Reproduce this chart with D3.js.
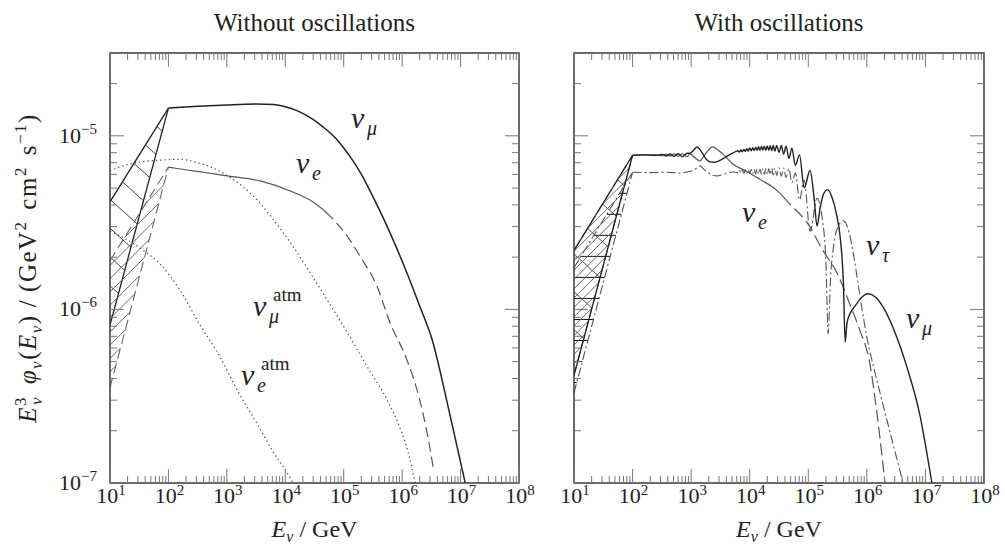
<!DOCTYPE html>
<html>
<head>
<meta charset="utf-8">
<script src="https://cdn.jsdelivr.net/npm/d3@7"></script>
<style>
body { margin: 0; background: #fff; }
svg text { font-family: "Liberation Serif", "DejaVu Serif", serif; fill: #222; }
</style>
</head>
<body>
<div id="chart"></div>
<script>
// all points are [log10(E / GeV), log10(E^3 phi)]

// ---- left panel: without oscillations
var leftNuMu = [[2.0,-4.84],[2.5,-4.83],[3.0,-4.822],[3.5,-4.817],[3.8,-4.82],[4.0,-4.832],[4.2,-4.855],
  [4.4,-4.89],[4.65,-4.95],[4.85,-5.01],[5.0,-5.07],[5.11,-5.12],[5.3,-5.22],[5.5,-5.35],[5.7,-5.49],
  [5.91,-5.65],[6.13,-5.83],[6.3,-5.98],[6.51,-6.17],[6.8,-6.58],[7.08,-7.0]];
var leftNuE = [[2.0,-5.18],[2.2,-5.191],[2.6,-5.21],[3.0,-5.231],[3.57,-5.26],[4.13,-5.324],[4.47,-5.38],
  [4.82,-5.48],[5.06,-5.578],[5.28,-5.694],[5.57,-5.867],[5.79,-6.075],[6.08,-6.289],[6.3,-6.52],
  [6.44,-6.734],[6.53,-6.908]];
var leftAtmNuMu = [[1.0,-5.2],[1.3,-5.165],[1.6,-5.147],[1.86,-5.14],[2.2,-5.135],[2.5,-5.155],[2.76,-5.185],
  [3.1,-5.249],[3.45,-5.347],[3.79,-5.48],[4.13,-5.636],[4.42,-5.786],[4.71,-5.942],[5.06,-6.133],
  [5.4,-6.329],[5.74,-6.52],[5.96,-6.68],[6.1,-6.82],[6.22,-7.0]];
var leftAtmNuE = [[1.0,-5.55],[1.3,-5.6],[1.57,-5.66],[1.86,-5.74],[2.2,-5.89],[2.54,-6.09],[2.88,-6.272],
  [3.17,-6.46],[3.52,-6.66],[3.79,-6.82],[4.03,-6.94],[4.13,-7.0]];
// spectral-index bands below 100 GeV: [edge at 10 GeV, corner at 100 GeV]
var leftBandMu = { upper: [[1,-5.38],[2,-4.84]], lower: [[1,-6.09],[2,-4.84]] };
var leftBandE  = { upper: [[1,-5.72],[2,-5.18]], lower: [[1,-6.45],[2,-5.18]] };

// ---- right panel: with oscillations
var rightNuMu = [[2.0,-5.112],[2.2,-5.11],[2.4,-5.112],[2.5,-5.107],[2.58,-5.116],[2.64,-5.105],[2.71,-5.118],
  [2.78,-5.103],[2.85,-5.12],[2.93,-5.1],[2.98,-5.1],[3.05,-5.08],[3.1,-5.064],[3.15,-5.078],[3.2,-5.104],
  [3.26,-5.135],[3.32,-5.15],[3.4,-5.152],[3.49,-5.142],[3.6,-5.12],[3.71,-5.1],
  [3.8,-5.086],[3.825,-5.094],[3.85,-5.082],[3.875,-5.092],[3.9,-5.078],[3.925,-5.09],[3.95,-5.074],
  [3.975,-5.088],[4.0,-5.07],[4.025,-5.086],[4.05,-5.068],[4.075,-5.085],[4.1,-5.065],[4.125,-5.084],
  [4.15,-5.063],[4.175,-5.083],[4.2,-5.061],[4.225,-5.082],[4.25,-5.06],[4.275,-5.083],[4.3,-5.058],
  [4.325,-5.084],[4.35,-5.057],[4.375,-5.085],[4.4,-5.056],[4.43,-5.088],[4.46,-5.055],[4.5,-5.095],
  [4.54,-5.056],[4.58,-5.105],[4.62,-5.06],[4.67,-5.13],[4.72,-5.072],[4.78,-5.17],[4.85,-5.11],
  [4.93,-5.3],[5.03,-5.2],[5.1,-5.36],[5.15,-5.52],[5.2,-5.42],[5.26,-5.335],[5.33,-5.31],[5.4,-5.35],
  [5.48,-5.45],[5.55,-5.6],[5.6,-5.85],[5.63,-6.19],[5.66,-6.08],[5.72,-6.02],[5.8,-5.98],[5.9,-5.935],
  [6.02,-5.91],[6.15,-5.93],[6.3,-6.0],[6.5,-6.15],[6.7,-6.35],[6.9,-6.6],[7.11,-7.0]];
var rightNuE = [[2.0,-5.112],[2.2,-5.11],[2.4,-5.111],[2.5,-5.114],[2.58,-5.106],[2.64,-5.117],[2.71,-5.104],
  [2.78,-5.118],[2.85,-5.102],[2.93,-5.12],[2.98,-5.104],[3.06,-5.125],[3.15,-5.145],[3.21,-5.12],
  [3.27,-5.092],[3.37,-5.064],[3.45,-5.08],[3.54,-5.104],[3.71,-5.162],[3.95,-5.205],[4.18,-5.252],
  [4.45,-5.31],[4.69,-5.395],[4.98,-5.5],[5.25,-5.66],[5.49,-5.79],[5.71,-5.97],[5.88,-6.12],
  [6.05,-6.31],[6.18,-6.62],[6.31,-7.0]];
var rightNuTau = [[2.0,-5.21],[2.3,-5.212],[2.6,-5.21],[2.8,-5.214],[2.93,-5.208],[3.03,-5.2],[3.1,-5.185],
  [3.15,-5.173],[3.21,-5.19],[3.27,-5.208],[3.35,-5.225],[3.44,-5.231],[3.55,-5.222],[3.71,-5.208],
  [3.8,-5.212],[3.825,-5.198],[3.85,-5.214],[3.875,-5.197],[3.9,-5.215],[3.925,-5.196],[3.95,-5.216],
  [3.975,-5.195],[4.0,-5.217],[4.025,-5.194],[4.05,-5.218],[4.075,-5.193],[4.1,-5.219],[4.125,-5.192],
  [4.15,-5.22],[4.175,-5.191],[4.2,-5.221],[4.225,-5.19],[4.25,-5.222],[4.275,-5.189],[4.3,-5.223],
  [4.325,-5.188],[4.35,-5.224],[4.375,-5.187],[4.4,-5.226],[4.43,-5.186],[4.46,-5.228],[4.5,-5.184],
  [4.54,-5.232],[4.58,-5.185],[4.62,-5.24],[4.67,-5.19],[4.72,-5.27],[4.78,-5.215],[4.85,-5.37],
  [4.93,-5.255],[5.03,-5.55],[5.15,-5.36],[5.24,-5.48],[5.3,-5.72],[5.34,-6.14],[5.38,-5.82],
  [5.43,-5.64],[5.5,-5.53],[5.6,-5.49],[5.7,-5.56],[5.78,-5.7],[5.88,-5.92],[6.0,-6.16],[6.15,-6.38],
  [6.3,-6.58],[6.45,-6.78],[6.62,-7.0]];
var rightBandMu  = { upper: [[1,-5.66],[2,-5.112]], lower: [[1,-6.38],[2,-5.112]] };
var rightBandE   = { upper: [[1,-5.66],[2,-5.112]], lower: [[1,-6.38],[2,-5.112]] };
var rightBandTau = { upper: [[1,-5.76],[2,-5.21]],  lower: [[1,-6.48],[2,-5.21]] };

// axis ticks
var xExponents = [1, 2, 3, 4, 5, 6, 7, 8];
var yExponents = [-7, -6, -5];
var titles = ['Without oscillations', 'With oscillations'];

var TOP = 53, BOTTOM = 483;
var FONT = '"Liberation Serif", "Times New Roman", serif';
var svg = d3.select('#chart').append('svg')
    .attr('width', 1005)
    .attr('height', 550)
    .attr('font-family', FONT);

var yScale = d3.scaleLog().domain([1e-7, 3e-5]).range([BOTTOM, TOP]);

var panels = [
    {
        x0: 110, x1: 519, title: titles[0], yLabels: true,
        bands: [
            { band: leftBandMu, dir: [1, 0.9], step: 11.5, hatch: '#444', edge: '#222', edgeDash: null, w: 1.3 },
            { band: leftBandE, dir: [1, -1], step: 22, hatch: '#666', edge: '#666', edgeDash: '10,5', w: 1.1 }
        ],
        curves: [
            { data: leftAtmNuMu, color: '#444', w: 1.2, dash: '1.3,3' },
            { data: leftAtmNuE, color: '#444', w: 1.2, dash: '1.3,3' },
            { data: leftNuE, color: '#555', w: 1.2, dash: [10, 5], solidTo: 4.88 },
            { data: leftNuMu, color: '#222', w: 1.5, dash: null }
        ],
        labels: [
            { x: 351, y: 128, sub: 'μ' },
            { x: 296, y: 173, sub: 'e' },
            { x: 253, y: 316, sub: 'μ', sup: 'atm' },
            { x: 241, y: 385, sub: 'e', sup: 'atm' }
        ]
    },
    {
        x0: 574, x1: 984, title: titles[1], yLabels: false,
        bands: [
            { band: rightBandTau, dir: [1, 0], step: 12.9, hatch: '#111', edge: '#555', edgeDash: '9,3,2,3', w: 1.1 },
            { band: rightBandE, dir: [1, -1], step: 15, hatch: '#666', edge: '#555', edgeDash: '10,5', w: 1.1 },
            { band: rightBandMu, dir: [1, 0.9], step: 15, hatch: '#555', edge: '#222', edgeDash: null, w: 1.3 }
        ],
        curves: [
            { data: rightNuTau, color: '#555', w: 1.1, dash: '9,3,2,3' },
            { data: rightNuE, color: '#555', w: 1.2, dash: [12, 5], solidTo: 4.69 },
            { data: rightNuMu, color: '#222', w: 1.4, dash: null }
        ],
        labels: [
            { x: 742, y: 222, sub: 'e' },
            { x: 866, y: 255, sub: 'τ' },
            { x: 906, y: 328, sub: 'μ' }
        ]
    }
];

panels.forEach(function (p, i) {
    var xScale = d3.scaleLog().domain([1e1, 1e8]).range([p.x0, p.x1]);
    var g = svg.append('g');
    var clipId = 'clip' + i;
    svg.append('clipPath').attr('id', clipId)
        .append('rect')
        .attr('x', p.x0).attr('y', TOP)
        .attr('width', p.x1 - p.x0).attr('height', BOTTOM - TOP);

    var px = function (d) { return xScale(Math.pow(10, d[0])); };
    var py = function (d) { return yScale(Math.pow(10, d[1])); };
    var line = d3.line().x(px).y(py).curve(d3.curveMonotoneX);

    var plot = g.append('g').attr('clip-path', 'url(#' + clipId + ')');

    // hatched bands
    p.bands.forEach(function (b) {
        drawHatch(plot, px, py, b);
        [b.band.upper, b.band.lower].forEach(function (edge) {
            plot.append('path')
                .attr('d', d3.line().x(px).y(py)(edge))
                .attr('fill', 'none')
                .attr('stroke', b.edge)
                .attr('stroke-width', b.w)
                .attr('stroke-dasharray', b.edgeDash);
        });
    });

    // curves
    p.curves.forEach(function (c) {
        var path = plot.append('path')
            .attr('d', line(c.data))
            .attr('fill', 'none')
            .attr('stroke', c.color)
            .attr('stroke-width', c.w);
        if (c.solidTo) {
            // dense flat part looks solid in the original, dashes start further down
            var head = c.data.filter(function (d) { return d[0] <= c.solidTo; });
            var tmp = plot.append('path').attr('d', line(head));
            var solidLen = tmp.node().getTotalLength();
            tmp.remove();
            var total = path.node().getTotalLength();
            var arr = [solidLen], len = solidLen;
            while (len < total) { arr.push(c.dash[1], c.dash[0]); len += c.dash[0] + c.dash[1]; }
            arr.push(total + 10);
            path.attr('stroke-dasharray', arr.join(','));
        } else if (c.dash) {
            path.attr('stroke-dasharray', c.dash);
        }
    });

    // frame
    g.append('rect')
        .attr('x', p.x0).attr('y', TOP)
        .attr('width', p.x1 - p.x0).attr('height', BOTTOM - TOP)
        .attr('fill', 'none')
        .attr('stroke', '#3a3a3a')
        .attr('stroke-width', 1.5);

    // x ticks, top and bottom, pointing inward
    xExponents.forEach(function (n) {
        for (var k = 1; k <= 9; k++) {
            if (n == 8 && k > 1) break;
            var xv = xScale(k * Math.pow(10, n));
            var len = k == 1 ? 14 : 7;
            g.append('line').attr('x1', xv).attr('x2', xv).attr('y1', BOTTOM).attr('y2', BOTTOM - len)
                .attr('stroke', '#777').attr('stroke-width', 1);
            g.append('line').attr('x1', xv).attr('x2', xv).attr('y1', TOP).attr('y2', TOP + len)
                .attr('stroke', '#777').attr('stroke-width', 1);
        }
        var t = g.append('text')
            .attr('x', xScale(Math.pow(10, n)) + 1)
            .attr('y', 503)
            .attr('text-anchor', 'middle')
            .attr('font-size', 22);
        t.append('tspan').text('10');
        t.append('tspan').attr('font-size', 15).attr('dy', -8).text(n);
    });

    // y ticks, left and right
    yExponents.forEach(function (n) {
        for (var k = 1; k <= 9; k++) {
            var v = k * Math.pow(10, n);
            if (v >= 3e-5) break;
            var yv = yScale(v);
            var len = k == 1 ? 14 : 7;
            g.append('line').attr('x1', p.x0).attr('x2', p.x0 + len).attr('y1', yv).attr('y2', yv)
                .attr('stroke', '#777').attr('stroke-width', 1);
            g.append('line').attr('x1', p.x1).attr('x2', p.x1 - len).attr('y1', yv).attr('y2', yv)
                .attr('stroke', '#777').attr('stroke-width', 1);
        }
        if (p.yLabels) {
            var t = g.append('text')
                .attr('x', p.x0 - 13)
                .attr('y', yScale(Math.pow(10, n)) + 7)
                .attr('text-anchor', 'end')
                .attr('font-size', 22);
            t.append('tspan').text('10');
            t.append('tspan').attr('font-size', 15).attr('dy', -9).text('\u2212' + Math.abs(n));
        }
    });

    // panel title
    g.append('text')
        .attr('x', (p.x0 + p.x1) / 2)
        .attr('y', 31)
        .attr('text-anchor', 'middle')
        .attr('font-size', 25)
        .text(p.title);

    // x axis title
    var xt = g.append('text')
        .attr('x', (p.x0 + p.x1) / 2)
        .attr('y', 537)
        .attr('text-anchor', 'middle')
        .attr('font-size', 24);
    xt.append('tspan').attr('font-style', 'italic').text('E');
    xt.append('tspan').attr('font-style', 'italic').attr('font-size', 16).attr('dy', 5).text('ν');
    xt.append('tspan').attr('dy', -5).text(' / GeV');

    // curve labels
    p.labels.forEach(function (l) {
        g.append('text').attr('x', l.x).attr('y', l.y)
            .attr('font-size', 30).attr('font-style', 'italic').text('ν');
        g.append('text').attr('x', l.x + 16).attr('y', l.y + 7)
            .attr('font-size', 20).attr('font-style', 'italic').text(l.sub);
        if (l.sup) {
            g.append('text').attr('x', l.x + 20).attr('y', l.y - 15)
                .attr('font-size', 19).text(l.sup);
        }
    });
});

// y axis title
var yt = svg.append('text')
    .attr('transform', 'translate(36,268) rotate(-90)')
    .attr('text-anchor', 'middle')
    .attr('font-size', 25);
yt.append('tspan').attr('font-style', 'italic').text('E');
yt.append('tspan').attr('font-size', 17).attr('dy', -10).text('3');
yt.append('tspan').attr('font-size', 17).attr('font-style', 'italic').attr('dx', -9).attr('dy', 16).text('ν');
yt.append('tspan').attr('dy', -6).attr('dx', 4).text(' ');
yt.append('tspan').attr('font-style', 'italic').text('φ');
yt.append('tspan').attr('font-size', 17).attr('font-style', 'italic').attr('dy', 6).text('ν');
yt.append('tspan').attr('dy', -6).text('(');
yt.append('tspan').attr('font-style', 'italic').text('E');
yt.append('tspan').attr('font-size', 17).attr('font-style', 'italic').attr('dy', 6).text('ν');
yt.append('tspan').attr('dy', -6).text(')');
yt.append('tspan').attr('dx', 7).text('/');
yt.append('tspan').attr('dx', 7).text('(GeV');
yt.append('tspan').attr('font-size', 17).attr('dy', -10).text('2');
yt.append('tspan').attr('dy', 10).attr('dx', 3).text(' cm');
yt.append('tspan').attr('font-size', 17).attr('dy', -10).text('2');
yt.append('tspan').attr('dy', 10).attr('dx', 3).text(' s');
yt.append('tspan').attr('font-size', 17).attr('dy', -10).text('\u22121');
yt.append('tspan').attr('dy', 10).text(')');
var ytLen = yt.node().getComputedTextLength();
var ytChars = yt.text().length;
if (ytLen < 385) yt.attr('letter-spacing', Math.min(1.5, (385 - ytLen) / ytChars));

// hatch lines run from points on the upper edge in a fixed direction to the lower edge
function drawHatch(g, px, py, b) {
    var U0 = [px(b.band.upper[0]), py(b.band.upper[0])];
    var U1 = [px(b.band.upper[1]), py(b.band.upper[1])];
    var L0 = [px(b.band.lower[0]), py(b.band.lower[0])];
    var L1 = [px(b.band.lower[1]), py(b.band.lower[1])];
    var ux = U0[0] - U1[0], uy = U0[1] - U1[1];
    var lx = L1[0] - L0[0], ly = L1[1] - L0[1];
    var d = b.dir;
    var den = d[0] * ly - d[1] * lx;
    for (var k = 1; k < 40; k++) {
        var t = k * b.step / Math.abs(ux);
        var p = [U1[0] + t * ux, U1[1] + t * uy];
        var s = ((L0[0] - p[0]) * ly - (L0[1] - p[1]) * lx) / den;
        if (s <= 0) continue;
        g.append('line')
            .attr('x1', p[0]).attr('y1', p[1])
            .attr('x2', p[0] + s * d[0]).attr('y2', p[1] + s * d[1])
            .attr('stroke', b.hatch)
            .attr('stroke-width', 1);
    }
}
</script>
</body>
</html>
